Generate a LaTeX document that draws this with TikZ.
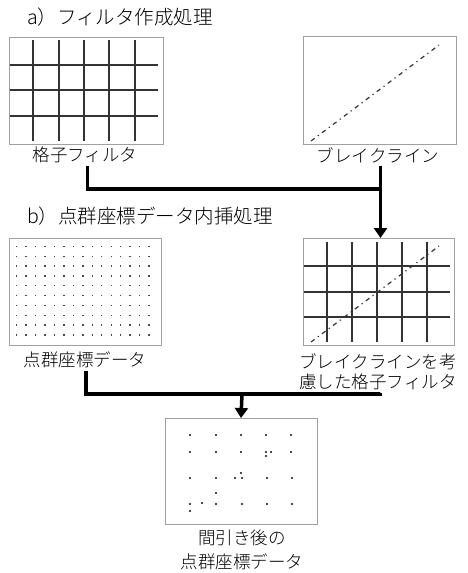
\documentclass[tikz,border=0pt]{standalone}
\usepackage{fontspec}
\IfFontExistsTF{Noto Sans CJK JP Light}{\setmainfont{Noto Sans CJK JP Light}}{\setmainfont{Noto Sans CJK JP}}
\usetikzlibrary{arrows.meta}
\definecolor{gridc}{HTML}{333333}
\definecolor{boxc}{HTML}{A0A0A0}
\tikzset{
  panel/.style={draw=boxc, line width=0.9pt, inner sep=0pt, outer sep=0pt},
  gridln/.style={draw=gridc, line width=1.6pt},
  brk/.style={draw=gridc, line width=1.2pt, dash pattern=on 4.5pt off 4pt on 1.2pt off 4pt},
  lbl/.style={inner sep=3pt, align=center, font=\fontsize{17.5}{20}\selectfont},
  ttl/.style={inner sep=0pt, anchor=west, font=\fontsize{19.5}{22}\selectfont},
  conn/.style={draw=black, line width=3.5pt},
  arr/.style={conn, -{Triangle[width=13pt,length=10pt]}},
  pt/.style={fill=black!70}
}
\begin{document}
\begin{tikzpicture}[x=1pt,y=-1pt]
\useasboundingbox (0,0) rectangle (467,573);
% titles
\node[ttl] (ta) at (27,17) {a）フィルタ作成処理};
\node[ttl] (tb) at (27,216) {b）点群座標データ内挿処理};
% panels
\node[panel, minimum width=154pt, minimum height=107pt] (gridbox) at (86,90.5) {};
\node[panel, minimum width=153pt, minimum height=108pt] (brkbox) at (379.5,90) {};
\node[panel, minimum width=152pt, minimum height=107pt] (ptbox) at (85,291.5) {};
\node[panel, minimum width=151pt, minimum height=107pt] (combox) at (378.5,291.5) {};
\node[panel, minimum width=152pt, minimum height=106pt] (resbox) at (241,471) {};
% grid filter
\foreach \x in {33,59,84,109,135} \draw[gridln] (\x,40) -- (\x,141);
\foreach \y in {65,90,116} \draw[gridln] (10,\y) -- (158,\y);
% break line
\draw[brk] (311,141) -- (439,45);
% point cloud
\foreach \i in {0,...,14}
  \foreach \j in {0,...,9}
    \fill[pt] ({16.7+\i*9.45-0.7},{246.5+\j*9.82-0.7}) rectangle ++(1.4,1.4);
% combined grid
\foreach \x in {327,352,377,402,427} \draw[gridln] (\x,242) -- (\x,342);
\foreach \y in {266,292,317} \draw[gridln] (304,\y) -- (450,\y);
\draw[brk] (311,342) -- (439,246);
% thinned points
\foreach \p in {(190,435),(216,435),(241,435),(266,435),(291,435),
  (190,452),(216,452),(241,452),(266,452),(266,455.5),(271,452),(291,452),
  (241,473),(190,478),(216,478),(235,478),(242,478),(267,478),(292,478),
  (216,493),
  (190,504),(202,503),(216,504),(242,504),(267,504),(292,504),
  (190,511)}
  \fill[pt] \p ++(-1,-1) rectangle ++(2,2);
% labels
\node[lbl] (gl) at (85,155) {格子フィルタ};
\node[lbl] (bl) at (378,155) {ブレイクライン};
\node[lbl] (pl) at (85,360) {点群座標データ};
\node[lbl] (cl) at (378,372) {ブレイクラインを考\\慮した格子フィルタ};
\node[lbl, font=\fontsize{17.5}{23.7}\selectfont] (rl) at (242,550) {間引き後の\\点群座標データ};
% connectors
\coordinate (j1) at (380.5,189);
\coordinate (j2) at (242,394);
\draw[conn] ([xshift=2.5pt]gl.south) |- (j1);
\draw[conn] (bl.south -| j1) -- (j1);
\draw[arr] (j1) -- (j1 |- combox.north);
\draw[conn] ([xshift=1pt]pl.south) |- (j2);
\draw[conn] ([xshift=2.5pt]cl.south) |- (j2);
\draw[arr] (j2) -- (resbox.north);
\end{tikzpicture}
\end{document}
